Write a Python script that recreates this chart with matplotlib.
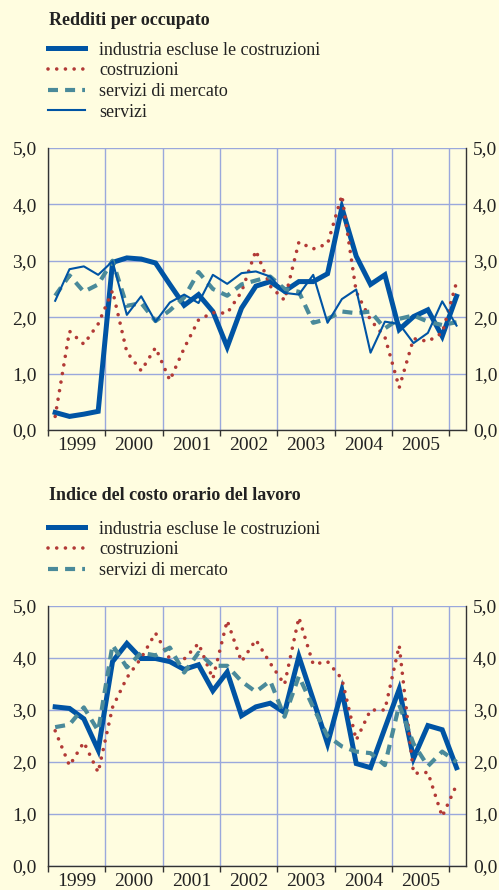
import numpy as np
import matplotlib.pyplot as plt
from matplotlib.ticker import FixedLocator

plt.rcParams['font.family'] = ['Liberation Serif', 'DejaVu Serif']

# trimestri 1999T1 .. 2006T1 (posizionati a metà trimestre)
trimestri = 1999.125 + 0.25 * np.arange(29)
anni = ['1999', '2000', '2001', '2002', '2003', '2004', '2005']

# Redditi per occupato
red_industria = [0.31, 0.24, 0.28, 0.33, 2.97, 3.05, 3.03, 2.96, 2.58, 2.21, 2.40, 2.10, 1.47, 2.16, 2.55,
                 2.63, 2.46, 2.63, 2.63, 2.77, 3.94, 3.08, 2.58, 2.75, 1.78, 2.01, 2.13, 1.66, 2.37]
red_costruzioni = [0.24, 1.75, 1.52, 1.88, 2.47, 1.38, 1.05, 1.46, 0.88, 1.45, 1.95, 2.08, 2.07, 2.45, 3.18,
                   2.55, 2.30, 3.33, 3.21, 3.30, 4.16, 2.45, 1.95, 1.65, 0.75, 1.62, 1.57, 1.72, 2.62]
red_serv_mercato = [2.38, 2.74, 2.45, 2.58, 3.00, 2.20, 2.25, 1.93, 2.12, 2.35, 2.80, 2.50, 2.38, 2.58, 2.65,
                    2.72, 2.50, 2.45, 1.90, 1.97, 2.10, 2.07, 2.10, 1.80, 1.97, 2.03, 1.92, 1.86, 1.91]
red_servizi = [2.29, 2.85, 2.90, 2.75, 2.99, 2.04, 2.37, 1.92, 2.26, 2.40, 2.25, 2.75, 2.59, 2.78, 2.81,
               2.72, 2.43, 2.40, 2.75, 1.90, 2.32, 2.49, 1.37, 1.92, 1.88, 1.54, 1.72, 2.28, 1.85]

# Indice del costo orario del lavoro
cos_industria = [3.06, 3.03, 2.83, 2.23, 3.93, 4.28, 3.99, 3.99, 3.93, 3.78, 3.87, 3.37, 3.73, 2.89, 3.06,
                 3.13, 2.95, 4.03, 3.20, 2.35, 3.38, 1.97, 1.89, 2.65, 3.40, 2.07, 2.70, 2.62, 1.89]
cos_costruzioni = [2.60, 1.93, 2.38, 1.80, 3.05, 3.62, 4.00, 4.48, 3.98, 3.98, 4.28, 3.60, 4.72, 3.93, 4.35,
                   3.90, 3.49, 4.78, 3.88, 3.93, 3.60, 2.42, 3.00, 3.00, 4.24, 1.78, 1.80, 0.95, 1.56]
cos_serv_mercato = [2.67, 2.72, 3.05, 2.60, 4.25, 3.82, 4.10, 4.05, 4.20, 3.72, 4.10, 3.85, 3.85, 3.55, 3.35,
                    3.56, 2.87, 3.65, 3.05, 2.50, 2.30, 2.20, 2.17, 1.94, 3.10, 2.35, 1.92, 2.20, 2.00]

sfondo = '#fffde0'
blu = '#0054a4'
rosso = '#b23a36'
verde = '#4a8a9a'
griglia = '#9aa8dc'
scuro = '#333333'
testo = '#222222'


def prepara(ax):
    ax.set_facecolor(sfondo)
    ax.set_xlim(1999, 2006.29)
    ax.set_ylim(0, 5)
    ax.set_yticks(range(6))
    ax.set_yticklabels(['%d,0' % v for v in range(6)])
    ax.xaxis.set_major_locator(FixedLocator(range(1999, 2007)))
    ax.set_xticklabels([])
    ax.xaxis.set_minor_locator(FixedLocator([a + 0.5 for a in range(1999, 2006)]))
    ax.set_xticklabels(anni, minor=True)
    ax.tick_params(axis='x', which='major', length=4, width=1, color=scuro, direction='out')
    ax.tick_params(axis='x', which='minor', length=0, pad=5, labelsize=14, labelcolor=testo)
    ax.tick_params(axis='y', length=0, pad=8, labelsize=14, labelcolor=testo)
    ax.grid(True, which='major', color=griglia, lw=1)
    ax.set_axisbelow(True)
    ax.spines['top'].set_visible(False)
    for s in ['left', 'right', 'bottom']:
        ax.spines[s].set_color(scuro)
        ax.spines[s].set_linewidth(1)
    # etichette a destra
    dx = ax.twinx()
    dx.set_ylim(0, 5)
    dx.set_yticks(range(6))
    dx.set_yticklabels(['%d,0' % v for v in range(6)])
    dx.tick_params(axis='y', length=0, pad=5, labelsize=14, labelcolor=testo)
    for s in dx.spines.values():
        s.set_visible(False)


fig = plt.figure(figsize=(4.99, 8.90), dpi=100, facecolor=sfondo)

ax1 = fig.add_axes([0.0962, 0.5169, 0.8377, 0.3169])
prepara(ax1)
ax1.plot(trimestri, red_industria, color=blu, lw=3.6, solid_joinstyle='miter', label='industria escluse le costruzioni')
ax1.plot(trimestri, red_costruzioni, color=rosso, lw=2.6, linestyle=(0, (0.01, 2.4)),
         dash_capstyle='round', label='costruzioni')
ax1.plot(trimestri, red_serv_mercato, color=verde, lw=3.0, linestyle=(0, (2.4, 1.7)), label='servizi di mercato')
ax1.plot(trimestri, red_servizi, color=blu, lw=1.5, label='servizi')
ax1.legend(loc='lower left', bbox_to_anchor=(0.0, 1.097), frameon=False, fontsize=13,
           handlelength=2.05, handletextpad=0.78, labelspacing=0.2, borderpad=0, borderaxespad=0,
           labelcolor=testo)
fig.text(0.098, 1 - 12 / 890, 'Redditi per occupato', fontsize=13, fontweight='bold',
         color=testo, va='top', ha='left')

ax2 = fig.add_axes([0.0962, 0.0270, 0.8377, 0.2921])
prepara(ax2)
ax2.plot(trimestri, cos_industria, color=blu, lw=3.6, solid_joinstyle='miter', label='industria escluse le costruzioni')
ax2.plot(trimestri, cos_costruzioni, color=rosso, lw=2.6, linestyle=(0, (0.01, 2.4)),
         dash_capstyle='round', label='costruzioni')
ax2.plot(trimestri, cos_serv_mercato, color=verde, lw=3.0, linestyle=(0, (2.4, 1.7)), label='servizi di mercato')
ax2.legend(loc='lower left', bbox_to_anchor=(0.0, 1.104), frameon=False, fontsize=13,
           handlelength=2.05, handletextpad=0.78, labelspacing=0.2, borderpad=0, borderaxespad=0,
           labelcolor=testo)
fig.text(0.098, 1 - 487 / 890, 'Indice del costo orario del lavoro', fontsize=13, fontweight='bold',
         color=testo, va='top', ha='left')

fig.savefig('out.png', dpi=100, facecolor=sfondo)
